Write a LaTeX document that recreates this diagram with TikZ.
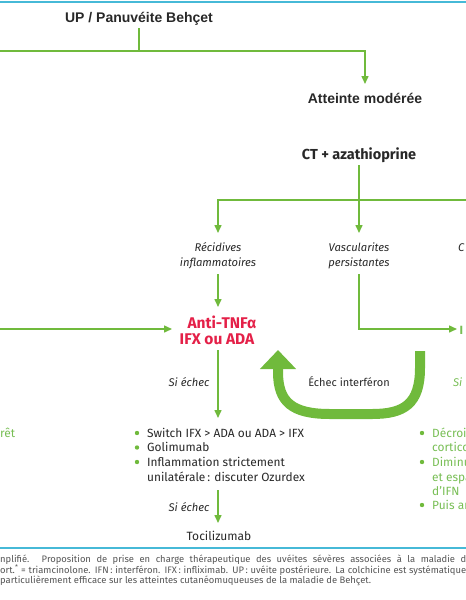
\documentclass[tikz,border=0pt]{standalone}
\usepackage{fontspec}
\setmainfont{Fira Sans}
\newfontfamily\arialfont{Liberation Sans}
\usetikzlibrary{arrows.meta}
\definecolor{gr}{RGB}{112,186,60}
\definecolor{lgr}{RGB}{120,190,85}
\definecolor{rd}{RGB}{228,32,72}
\definecolor{cy}{RGB}{70,185,215}
\definecolor{tx}{RGB}{40,40,40}
\definecolor{cap}{RGB}{85,85,85}
\begin{document}
\begin{tikzpicture}[x=1pt,y=-1pt,
  conn/.style={draw=gr, line width=1.5pt},
  arr/.style={conn,-{Triangle[length=8pt,width=7pt]}},
  bigarr/.style={draw=gr, line width=10pt, -{Triangle[length=19pt,width=35pt]}},
  rule/.style={draw=cy, line width=1.6pt},
  head/.style={anchor=base, inner sep=0pt, text=tx, font=\arialfont\bfseries\fontsize{14}{16}\selectfont},
  headb/.style={anchor=base, inner sep=0pt, text=tx, font=\bfseries\fontsize{14.5}{16}\selectfont},
  red/.style={anchor=base, inner sep=0pt, text=rd, font=\bfseries\fontsize{15.5}{17}\selectfont},
  lbl/.style={anchor=base, inner sep=0pt, text=tx, font=\itshape\fontsize{11.2}{14}\selectfont},
  body/.style={anchor=base west, inner sep=0pt, text=tx, font=\fontsize{11.9}{14}\selectfont},
  gbody/.style={anchor=base west, inner sep=0pt, text=lgr, font=\fontsize{11.9}{14}\selectfont},
  bul/.style={fill=gr, draw=none},
  caption/.style={anchor=base west, inner sep=0pt, text=cap, font=\fontsize{9.4}{10}\selectfont}
]
\useasboundingbox (0,0) rectangle (466,600);

% rules
\coordinate (r1a) at (0,2); \coordinate (r1b) at (466,2);
\draw[rule] (r1a) -- (r1b);
\coordinate (r2a) at (0,548); \coordinate (r2b) at (466,548);
\draw[rule] (r2a) -- (r2b);

% top
\node[head] (up) at (139,22) {UP / Panuvéite Behçet};
\coordinate (upb) at (139,28);
\coordinate (j1) at (139,51);
\coordinate (lft) at (0,51);
\draw[conn] (upb) -- (j1);
\node[head] (att) at (365,103) {Atteinte modérée};
\coordinate (atttop) at (365,84);
\draw[arr] (lft) -| (atttop);

\node[headb] (ct) at (359,159) {CT + azathioprine};
\coordinate (ctb) at (359,165);
\coordinate (j2) at (359,200);
\coordinate (rgt) at (466,200);
\coordinate (rectop) at (218,233);
\coordinate (vastop) at (359,233);
\draw[arr] (ctb) -- (vastop);
\draw[conn] (rgt) -- (j2);
\draw[arr] (j2) -| (rectop);

\node[lbl] (rec1) at (218,251) {Récidives};
\node[lbl] (rec2) at (218,266) {inflammatoires};
\node[lbl] (vas1) at (359,251) {Vascularites};
\node[lbl] (vas2) at (359,266) {persistantes};
\node[lbl, anchor=base west] (c3) at (458,251) {C};

% anti-TNF
\node[red] (tnf1) at (222,328) {Anti-TNFα};
\node[red] (tnf2) at (217,344) {IFX ou ADA};
\coordinate (recb) at (218,274);
\coordinate (tnftop) at (218,307);
\draw[arr] (recb) -- (tnftop);
\coordinate (lin) at (0,329);
\coordinate (tnfl) at (172,329);
\draw[arr] (lin) -- (tnfl);

\coordinate (vasb) at (359,274);
\coordinate (ifn) at (457,329);
\draw[arr] (vasb) |- (ifn);
\node[gbody, font=\bfseries\fontsize{11.9}{14}\selectfont] (ifnt) at (459.5,334) {I};

% big arrow
\coordinate (bs) at (420,351);
\coordinate (be) at (278,350);
\draw[bigarr] (bs) -- (420,368) .. controls (420,404) and (404,414) .. (372,414)
  -- (330,414) .. controls (292,414) and (278,402) .. (278,372) -- (be);
\node[anchor=base, inner sep=0pt, text=tx, font=\fontsize{11}{14}\selectfont] (ei) at (349,386) {Échec interféron};

% si echec 1
\coordinate (tnfb) at (218,350);
\coordinate (listtop) at (218,418);
\draw[arr] (tnfb) -- (listtop);
\node[lbl] (se1) at (189,386) {Si échec};
\node[lbl, text=lgr, anchor=base west] (se3) at (453,386) {Si};

% list
\fill[bul] (137,433) circle (2.2);
\fill[bul] (137,447.5) circle (2.2);
\fill[bul] (137,462) circle (2.2);
\node[body] (l1) at (147,437) {Switch IFX > ADA ou ADA > IFX};
\node[body] (l2) at (147,451.5) {Golimumab};
\node[body] (l3) at (147,466) {Inflammation strictement};
\node[body] (l4) at (147,481) {unilatérale\,: discuter Ozurdex};

\coordinate (l4b) at (218,490);
\coordinate (toctop) at (218,523);
\draw[arr] (l4b) -- (toctop);
\node[lbl] (se2) at (189,511) {Si échec};
\node[anchor=base, inner sep=0pt, text=tx, font=\fontsize{12}{14}\selectfont] (toc) at (219,540.5) {Tocilizumab};

% left fragment
\node[gbody] (arret) at (0,437) {rêt};

% right list
\fill[bul] (422,433) circle (2.2);
\fill[bul] (422,462) circle (2.2);
\fill[bul] (422,505) circle (2.2);
\node[gbody] (rl1) at (432,437) {Décroi};
\node[gbody] (rl2) at (432,451.5) {cortico};
\node[gbody] (rl3) at (432,466) {Diminu};
\node[gbody] (rl4) at (432,481) {et espa};
\node[gbody] (rl5) at (432,495) {d'IFN};
\node[gbody] (rl6) at (432,509.5) {Puis ar};

% caption
\node[caption] (cap1) at (0,562.5) {\makebox[466pt][s]{nplifié. Proposition de prise en charge thérapeutique des uvéites sévères associées à la maladie d}};
\node[caption] (cap2) at (0,573) {\makebox[466pt][s]{ort.\textsuperscript{*} = triamcinolone. IFN\,: interféron. IFX\,: infliximab. UP\,: uvéite postérieure. La colchicine est systématique}};
\node[caption] (cap3) at (0,583.5) {particulièrement efficace sur les atteintes cutanéomuqueuses de la maladie de Behçet.};
\end{tikzpicture}
\end{document}
